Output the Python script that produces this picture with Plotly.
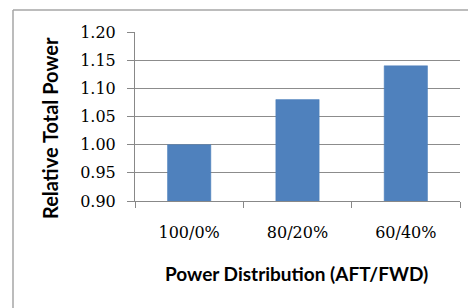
import plotly.graph_objects as go

categories = ["100/0%", "80/20%", "60/40%"]
relative_power = [1.00, 1.08, 1.14]
y_ticks = [0.90, 0.95, 1.00, 1.05, 1.10, 1.15, 1.20]
y_tick_labels = ["0.90", "0.95", "1.00", "1.05", "1.10", "1.15", "1.20"]

OFF = 8  # page body margin
W, H = 476 - OFF, 308 - OFF
# plot area in page pixels: x 135..460, y 32..201
L, R = 135 - OFF, 476 - 460
T, B = 32 - OFF, (308 - OFF) - (201 - OFF)
pw, ph = W - L - R, H - T - B

def px_x(x):
    return (x - OFF - L) / pw

def px_y(y):
    return (H - B - (y - OFF)) / ph

fig = go.Figure(go.Bar(
    x=categories, y=relative_power, base=0,
    marker=dict(color="#4F81BD", line=dict(color="#4A7EBB", width=0.5)),
))

tickfont = dict(family="DejaVu Serif", size=16, color="#000")

fig.update_layout(
    width=W, height=H,
    margin=dict(l=L, r=R, t=T, b=B),
    paper_bgcolor="white", plot_bgcolor="white",
    showlegend=False, bargap=0.6,
    xaxis=dict(
        type="category", range=[-0.5, 2.5],
        tickson="boundaries", ticks="outside", ticklen=6, tickcolor="#888",
        showline=True, linecolor="#888", linewidth=1,
        showgrid=False, tickfont=tickfont, ticklabelstandoff=17,
    ),
    yaxis=dict(
        range=[0.90, 1.20], tickvals=y_ticks, ticktext=y_tick_labels,
        ticks="outside", ticklen=7, tickcolor="#888",
        showline=True, linecolor="#888", linewidth=1,
        showgrid=True, gridcolor="#8c8c8c", gridwidth=1,
        zeroline=False, tickfont=tickfont, ticklabelstandoff=8,
    ),
    annotations=[
        dict(text="<b>Relative Total Power</b>", textangle=-90,
             xref="paper", yref="paper", x=px_x(50), y=px_y(128),
             xanchor="center", yanchor="middle", showarrow=False,
             font=dict(family="Lato", size=20, color="#000")),
        dict(text="<b>Power Distribution (AFT/FWD)</b>",
             xref="paper", yref="paper", x=px_x(296.5), y=px_y(273),
             xanchor="center", yanchor="middle", showarrow=False,
             font=dict(family="Lato", size=19, color="#000")),
    ],
    shapes=[
        dict(type="line", xref="paper", yref="paper",
             x0=px_x(13), x1=px_x(13), y0=px_y(10), y1=px_y(320),
             line=dict(color="#a6a6a6", width=1.5)),
        dict(type="line", xref="paper", yref="paper",
             x0=px_x(13), x1=px_x(490), y0=px_y(10), y1=px_y(10),
             line=dict(color="#a6a6a6", width=1.5)),
    ],
)

fig.write_html("out.html")
